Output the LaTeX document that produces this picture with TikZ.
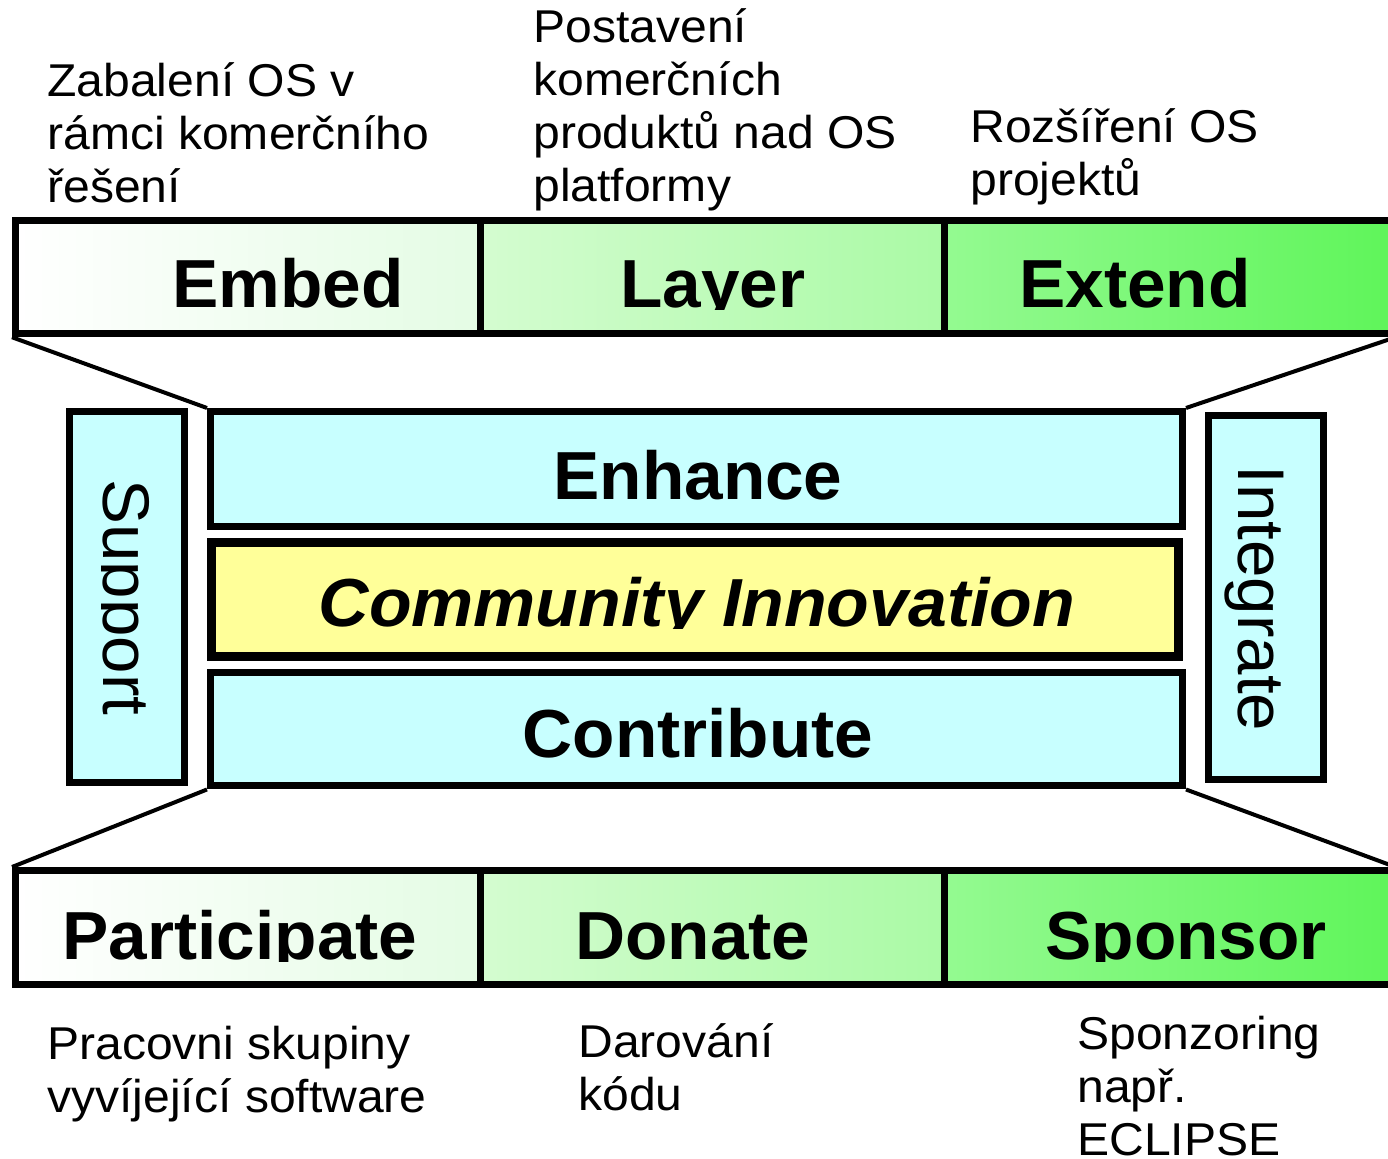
\documentclass[tikz,border=0pt]{standalone}
\usepackage{fontspec}
\setmainfont{Liberation Sans}
\newfontfamily\bigfont{Liberation Sans}[FakeStretch=1.02]
\newfontfamily\commfont{Liberation Sans}[FakeStretch=1.027]
\newfontfamily\lblfont{Liberation Sans}[FakeStretch=1.045]
\definecolor{cyanfill}{RGB}{200,255,255}
\definecolor{yellowfill}{RGB}{255,255,153}
\definecolor{ga}{RGB}{255,255,255}
\definecolor{gb}{RGB}{228,252,228}
\definecolor{gc}{RGB}{212,252,208}
\definecolor{gd}{RGB}{170,250,165}
\definecolor{ge}{RGB}{148,250,145}
\definecolor{gf}{RGB}{95,245,90}
\begin{document}
\begin{tikzpicture}[x=0.5pt,y=-0.5pt,
  cell/.style={draw=black, line width=3.5pt, inner sep=0pt, minimum height=56.75pt},
  midbox/.style={draw=black, line width=3.5pt, fill=cyanfill, inner sep=0pt},
  big/.style={font=\bigfont\fontsize{34}{40}\selectfont\bfseries, inner sep=0pt, anchor=base},
  side/.style={font=\bigfont\fontsize{33}{40}\selectfont, inner sep=0pt, anchor=base, rotate=-90},
  lbl/.style={font=\lblfont\fontsize{23}{26.4}\selectfont, inner sep=0pt, anchor=base west},
  link/.style={line width=2pt}]
\useasboundingbox (0,0) rectangle (1388,1159);
\clip (0,0) rectangle (1388,1159);

% top bar
\node[cell, left color=ga, right color=gb, minimum width=232.25pt] (embedc) at (247.75,277) {};
\node[cell, left color=gc, right color=gd, minimum width=232pt] (laverc) at (712,277) {};
\node[cell, left color=ge, right color=gf, minimum width=224pt] (extendc) at (1168,277) {};

% bottom bar
\node[cell, left color=ga, right color=gb, minimum width=232.25pt, minimum height=57pt] (partc) at (247.75,927.5) {};
\node[cell, left color=gc, right color=gd, minimum width=232pt, minimum height=57pt] (donc) at (712,927.5) {};
\node[cell, left color=ge, right color=gf, minimum width=224pt, minimum height=57pt] (sponc) at (1168,927.5) {};

% middle boxes
\node[midbox, minimum width=486pt, minimum height=57.5pt] (enh) at (696.5,469) {};
\node[draw=black, line width=4.5pt, fill=yellowfill, inner sep=0pt, minimum width=483.5pt, minimum height=57pt] (comm) at (695,599.5) {};
\node[midbox, minimum width=486pt, minimum height=56.5pt] (contr) at (696.5,729.5) {};
\node[midbox, minimum width=57.5pt, minimum height=185.5pt] (supp) at (127,597) {};
\node[midbox, minimum width=57.5pt, minimum height=182pt] (integ) at (1266,597.5) {};

% connectors
\draw[link] (embedc.south west) -- (enh.north west);
\draw[link] (extendc.south east) -- (enh.north east);
\draw[link] (contr.south west) -- (partc.north west);
\draw[link] (contr.south east) -- (sponc.north east);

% big texts (descenders clipped as in the original)
\node[big] (tembed) at (288,308) {Embed};
\begin{scope}
\clip (482,230) rectangle (942,310);
\node[big] (tlayer) at (713,308) {Layer};
\end{scope}
\node[big] (textend) at (1135,308) {Extend};
\node[big] (tenh) at (698,500) {Enhance};
\begin{scope}
\clip (215,550) rectangle (1175,629);
\node[big, font=\commfont\fontsize{34}{40}\selectfont\bfseries\itshape] (tcomm) at (697,627) {Community Innovation};
\end{scope}
\node[big] (tcontr) at (698,758) {Contribute};
\begin{scope}
\clip (18,880) rectangle (478,962);
\node[big] (tpart) at (240,960) {Participate};
\end{scope}
\node[big] (tdon) at (693,960) {Donate};
\begin{scope}
\clip (946,880) rectangle (1388,962);
\node[big] (tspon) at (1186,960) {Sponsor};
\end{scope}
\begin{scope}
\clip (101,420) rectangle (180,775);
\node[side] (tsupp) at (103,597.5) {Support};
\end{scope}
\node[side] (tinteg) at (1238,598.5) {Integrate};

% labels
\node[lbl] (l1) at (47,97) {\begin{tabular}[t]{@{}l@{}}Zabalení OS v\\rámci komerčního\\řešení\end{tabular}};
\node[lbl] (l2) at (533,43) {\begin{tabular}[t]{@{}l@{}}Postavení\\komerčních\\produktů nad OS\\platformy\end{tabular}};
\node[lbl] (l3) at (970,143) {\begin{tabular}[t]{@{}l@{}}Rozšíření OS\\projektů\end{tabular}};
\node[lbl] (l4) at (47,1060) {\begin{tabular}[t]{@{}l@{}}Pracovni skupiny\\vyvíjející software\end{tabular}};
\node[lbl] (l5) at (578,1058) {\begin{tabular}[t]{@{}l@{}}Darování\\kódu\end{tabular}};
\node[lbl] (l6) at (1077,1050) {\begin{tabular}[t]{@{}l@{}}Sponzoring\\např.\\ECLIPSE\end{tabular}};
\end{tikzpicture}
\end{document}
